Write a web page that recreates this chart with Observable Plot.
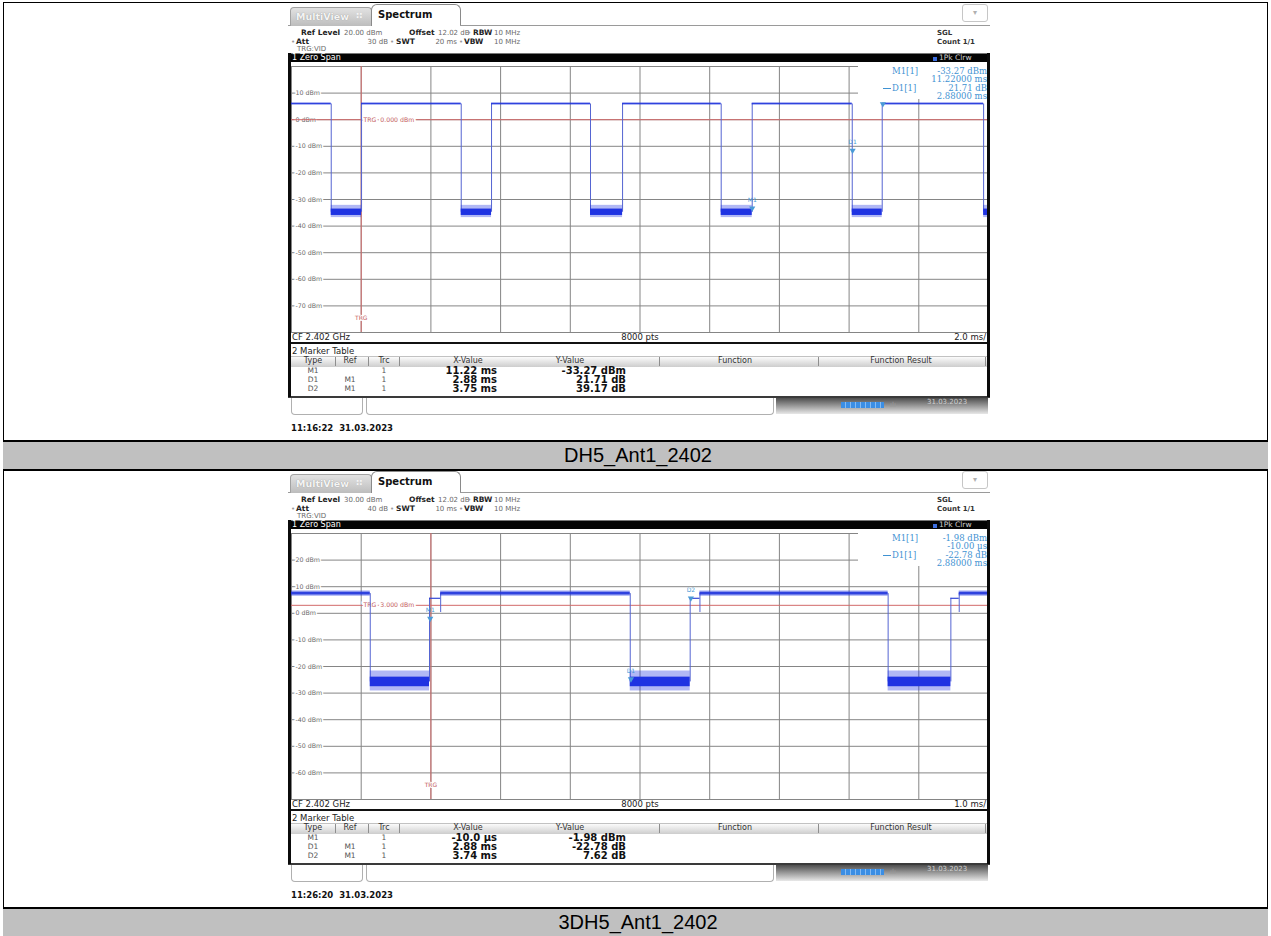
<!DOCTYPE html>
<html><head><meta charset="utf-8">
<script src="https://cdn.jsdelivr.net/npm/d3@7"></script>
<script src="https://cdn.jsdelivr.net/npm/@observablehq/plot@0.6"></script>
<style>
html,body{margin:0;padding:0;background:#fff;}
#page{position:relative;width:1271px;height:936px;overflow:hidden;background:#fff;font-family:"DejaVu Sans",sans-serif;}
#page div{position:absolute;}
</style></head>
<body><div id="page"></div>
<script>
// ================= Upper screenshot: DH5_Ant1_2402 =================
const caption1 = "DH5_Ant1_2402";
const timestamp1 = "11:16:22\u00a0\u00a031.03.2023";
const settingsA1 = ["20.00 dBm", "12.02 dB", "10 MHz"];   // Ref Level, Offset, RBW
const settingsB1 = ["30 dB", "20 ms", "10 MHz"];          // Att, SWT, VBW
const timeDomain1 = [-2, 18];                              // ms
const levelDomain1 = [-80, 20];                            // dBm
const timeGrid1 = [-2, 0, 2, 4, 6, 8, 10, 12, 14, 16, 18];
const levelGrid1 = [20, 10, 0, -10, -20, -30, -40, -50, -60, -70, -80];
const levelTicks1 = [10, 0, -10, -20, -30, -40, -50, -60, -70];
const fallTimes1 = [-0.86, 2.87, 6.58, 10.33, 14.09, 17.86];
const riseTimes1 = [0.01, 3.74, 7.50, 11.22, 14.95];
const onLevel1 = [5.6, 6.2];
const offLevel1 = [-36.8, -32.2];
const offCore1 = [-36.0, -33.6];
const trigLevel1 = 0;
const markerNames1 = ["M1", "D1", "D2"];
const markerTimes1 = [11.22, 14.10, 14.97];
const markerLevels1 = [-33.27, -11.56, 5.90];
const tableRef1 = ["", "M1", "M1"];
const tableX1 = ["11.22 ms", "2.88 ms", "3.75 ms"];
const tableY1 = ["-33.27 dBm", "21.71 dB", "39.17 dB"];
const infoLeft1 = ["M1[1]", "", "D1[1]", ""];
const infoRight1 = ["-33.27 dBm", "11.22000 ms", "21.71 dB", "2.88000 ms"];
const sweepLabel1 = "2.0 ms/";

// ================= Lower screenshot: 3DH5_Ant1_2402 =================
const caption2 = "3DH5_Ant1_2402";
const timestamp2 = "11:26:20\u00a0\u00a031.03.2023";
const settingsA2 = ["30.00 dBm", "12.02 dB", "10 MHz"];
const settingsB2 = ["40 dB", "10 ms", "10 MHz"];
const timeDomain2 = [-2, 8];
const levelDomain2 = [-70, 30];
const timeGrid2 = [-2, -1, 0, 1, 2, 3, 4, 5, 6, 7, 8];
const levelGrid2 = [30, 20, 10, 0, -10, -20, -30, -40, -50, -60, -70];
const levelTicks2 = [20, 10, 0, -10, -20, -30, -40, -50, -60];
const fallTimes2 = [-0.87, 2.86, 6.56];
const riseTimes2 = [-0.02, 3.72, 7.46];
const stepEndTimes2 = [0.14, 3.86, 7.58];
const stepLevel2 = 5.64;
const stepDip2 = 0.3;
const onLevel2 = [6.4, 8.4];
const onCore2 = [6.9, 7.9];
const offLevel2 = [-29.2, -21.7];
const offCore2 = [-27.6, -24.0];
const trigLevel2 = 3;
const markerNames2 = ["M1", "D1", "D2"];
const markerTimes2 = [-0.01, 2.87, 3.73];
const markerLevels2 = [-1.98, -24.76, 5.64];
const tableRef2 = ["", "M1", "M1"];
const tableX2 = ["-10.0 \u00b5s", "2.88 ms", "3.74 ms"];
const tableY2 = ["-1.98 dBm", "-22.78 dB", "7.62 dB"];
const infoLeft2 = ["M1[1]", "", "D1[1]", ""];
const infoRight2 = ["-1.98 dBm", "-10.00 \u00b5s", "-22.78 dB", "2.88000 ms"];
const sweepLabel2 = "1.0 ms/";

// shared labels
const tableHeads = ["Type", "Ref", "Trc", "X-Value", "Y-Value", "Function", "Function Result"];

// ---------------------------------------------------------------
const page = document.getElementById("page");
const SANS = '"DejaVu Sans", sans-serif';
const SERIF = '"DejaVu Serif", serif';
const BLUE_INFO = "#3f92d2";
const TRACE = "#1f33e2";
const EDGE = "#5565d2";
const RED = "#d26a6a";

function box(x, y, w, h, css) {
  const d = document.createElement("div");
  d.style.cssText = `position:absolute;left:${x}px;top:${y}px;width:${w}px;height:${h}px;box-sizing:border-box;` + (css || "");
  page.appendChild(d);
  return d;
}
function put(x, y, text, o = {}) {
  const d = document.createElement("div");
  d.textContent = text;
  const s = d.style;
  s.position = "absolute"; s.whiteSpace = "pre";
  s.left = x + "px"; s.top = (y - 6) + "px"; s.lineHeight = "12px"; s.height = "12px";
  s.fontSize = (o.size || 8) + "px";
  s.fontFamily = o.font || SANS;
  s.fontWeight = o.bold ? "bold" : "normal";
  s.color = o.color || "#222";
  if (o.anchor === "end") s.transform = "translateX(-100%)";
  else if (o.anchor === "middle") s.transform = "translateX(-50%)";
  if (o.css) s.cssText += o.css;
  page.appendChild(d);
  return d;
}

function chart(c) {
  const [t0, t1] = c.timeDomain;
  const onMid = (c.onLevel[0] + c.onLevel[1]) / 2;
  const offMid = (c.offCore[0] + c.offCore[1]) / 2;
  const starts = [t0, ...(c.stepEnds || c.rises)];
  const ends = [...c.falls]; if (starts.length > ends.length) ends.push(t1);
  const high = starts.map((s, i) => ({t0: s, t1: ends[i], lo: c.onLevel[0], hi: c.onLevel[1],
    clo: (c.onCore || c.onLevel)[0], chi: (c.onCore || c.onLevel)[1]}));
  const lowEnds = [...c.rises]; if (c.falls.length > c.rises.length) lowEnds.push(t1);
  const low = c.falls.map((f, i) => ({t0: f, t1: lowEnds[i], lo: c.offLevel[0], hi: c.offLevel[1],
    clo: c.offCore[0], chi: c.offCore[1]}));
  const steps = c.stepEnds ? c.rises.map((r, i) => ({t0: r, t1: c.stepEnds[i], y: c.stepLevel})) : [];
  const edges = [
    ...c.falls.map(t => ({t, a: onMid, b: offMid})),
    ...c.rises.map(t => ({t, a: offMid, b: c.stepEnds ? c.stepLevel : onMid})),
    ...(c.stepEnds || []).map(t => ({t, a: c.stepDip, b: onMid}))
  ];
  const markers = c.markerNames.map((n, i) => ({name: n, t: c.markerTimes[i], v: c.markerLevels[i]}));
  return Plot.plot({
    width: 702, height: 271,
    marginLeft: 3, marginRight: 2, marginTop: 4, marginBottom: 1,
    x: {domain: c.timeDomain, axis: null},
    y: {domain: c.levelDomain, axis: null},
    style: {background: "white", fontFamily: SANS, overflow: "visible"},
    marks: [
      Plot.ruleX(c.timeGrid, {stroke: "#858585", strokeWidth: 1}),
      Plot.ruleY(c.levelGrid, {stroke: "#858585", strokeWidth: 1}),
      Plot.text(c.levelTicks, {frameAnchor: "left", y: d => d, text: d => `${d} dBm`, dx: 4,
        textAnchor: "start", fontSize: 6.3, fill: "#6a6a6a", stroke: "white", strokeWidth: 3, paintOrder: "stroke"}),
      Plot.ruleX([0], {stroke: RED, strokeWidth: 1}),
      Plot.ruleY([c.trigLevel], {stroke: RED, strokeWidth: 1}),
      Plot.text([c.trigLevel], {frameAnchor: "left", y: d => d, dx: 72, textAnchor: "start",
        text: d => `TRG\u00a0\u00a0${d.toFixed(3)}\u00a0dBm`, fontSize: 6.2, fill: "#c45c5c", stroke: "white", strokeWidth: 4, paintOrder: "stroke"}),
      Plot.text([0], {x: d => d, frameAnchor: "bottom", dy: -13, text: () => "TRG", fontSize: 6,
        fill: "#c45c5c", stroke: "white", strokeWidth: 2, paintOrder: "stroke"}),
      Plot.ruleX(edges, {x: "t", y1: "a", y2: "b", stroke: EDGE, strokeWidth: 1}),
      Plot.rect(high, {x1: "t0", x2: "t1", y1: "lo", y2: "hi", fill: TRACE, fillOpacity: 0.4}),
      Plot.rect(high, {x1: "t0", x2: "t1", y1: "clo", y2: "chi", fill: "#2236dc", fillOpacity: 0.9}),
      Plot.ruleY(steps, {x1: "t0", x2: "t1", y: "y", stroke: "#3246d6", strokeWidth: 1.2}),
      Plot.rect(low, {x1: "t0", x2: "t1", y1: "lo", y2: "hi", fill: TRACE, fillOpacity: 0.35}),
      Plot.rect(low, {x1: "t0", x2: "t1", y1: "clo", y2: "chi", fill: TRACE}),
      Plot.dot(markers, {x: "t", y: "v", symbol: "triangle", rotate: 180, r: 2.3, fill: "#4a9ad6"}),
      Plot.text(markers, {x: "t", y: "v", text: "name", dy: -8, fontSize: 6, fill: "#4a9ad6"})
    ]
  });
}

function shot(c) {
  const Y = c.Y;
  // --- tab strip ---
  box(288, Y + 25, 84, 1, "background:#9a9a9a");
  box(290, Y + 7, 82, 19, "background:linear-gradient(#e2e2e2,#bdbdbd);border:1px solid #a2a2a2;border-bottom:none;border-radius:4px 4px 0 0;");
  put(296, Y + 16.5, "MultiView", {bold: true, size: 9.5, color: "#f4f4f4", css: "text-shadow:0 0 1px #8a8a8a;"});
  put(356, Y + 16, "::", {bold: true, size: 8, color: "#f8f8f8"});
  box(371, Y + 4, 90, 22, "background:#fff;border:1px solid #8a8a8a;border-bottom:none;border-radius:6px 6px 0 0;");
  put(378, Y + 15, "Spectrum", {bold: true, size: 10, color: "#111"});
  box(460, Y + 25, 530, 1, "background:#9a9a9a");
  box(962, Y + 4, 26, 18, "border:1px solid #c6c6c6;border-radius:3px;background:#fff;");
  put(975, Y + 13, "\u25be", {size: 8, color: "#b0b0b0", anchor: "middle"});
  // --- settings ---
  put(301, Y + 33.3, "Ref Level", {bold: true, size: 7.5});
  put(344, Y + 33.3, c.settingsA[0], {size: 7, color: "#6a6a6a"});
  put(409, Y + 33.3, "Offset", {bold: true, size: 7.5});
  put(438, Y + 33.3, c.settingsA[1], {size: 7, color: "#6a6a6a"});
  put(467, Y + 33.3, "\u2022", {size: 7, color: "#9a9a9a"});
  put(473, Y + 33.3, "RBW", {bold: true, size: 7.5});
  put(494, Y + 33.3, c.settingsA[2], {size: 7, color: "#6a6a6a"});
  put(291, Y + 41.7, "\u2022", {size: 7, color: "#9a9a9a"});
  put(296, Y + 41.7, "Att", {bold: true, size: 7.5});
  put(388, Y + 41.7, c.settingsB[0], {size: 7, color: "#6a6a6a", anchor: "end"});
  put(390, Y + 41.7, "\u2022", {size: 7, color: "#9a9a9a"});
  put(396, Y + 41.7, "SWT", {bold: true, size: 7.5});
  put(457, Y + 41.7, c.settingsB[1], {size: 7, color: "#6a6a6a", anchor: "end"});
  put(459, Y + 41.7, "\u2022", {size: 7, color: "#9a9a9a"});
  put(464, Y + 41.7, "VBW", {bold: true, size: 7.5});
  put(494, Y + 41.7, c.settingsB[2], {size: 7, color: "#6a6a6a"});
  put(297, Y + 49.3, "TRG:VID", {size: 7, color: "#6a6a6a"});
  put(937, Y + 33.3, "SGL", {bold: true, size: 7, color: "#333"});
  put(937, Y + 41.7, "Count 1/1", {bold: true, size: 7, color: "#333"});
  // --- window title bar ---
  box(288, Y + 53, 702, 10, "background:#040404;border-top:1px solid #777;");
  put(292, Y + 58.3, "1 Zero Span", {size: 8, color: "#fff"});
  box(933, Y + 56.5, 4, 4, "background:#3d6fe0;");
  put(939, Y + 58.3, "1Pk Clrw", {size: 7.5, color: "#cfcfcf"});
  // --- plot ---
  const svg = chart(c);
  svg.style.position = "absolute"; svg.style.left = "288px"; svg.style.top = (Y + 62) + "px";
  page.appendChild(svg);
  // marker info box
  box(858, Y + 63, 129, 35.5, "background:#fff;");
  const iy = [70.5, 79, 87.5, 96];
  c.infoLeft.forEach((s, i) => { if (s) put(892, Y + iy[i], s, {font: SERIF, size: 8.5, color: BLUE_INFO}); });
  c.infoRight.forEach((s, i) => put(987, Y + iy[i], s, {font: SERIF, size: 8.5, color: BLUE_INFO, anchor: "end"}));
  box(883, Y + 88, 8, 1, "background:" + BLUE_INFO);
  // --- CF row ---
  box(291, Y + 333, 696, 9, "background:#fff;");
  put(292, Y + 337.3, "CF 2.402 GHz", {size: 8.5, color: "#222"});
  put(640, Y + 337.3, "8000 pts", {size: 8.5, color: "#222", anchor: "middle"});
  put(986, Y + 337.3, c.sweepLabel, {size: 8.5, color: "#222", anchor: "end"});
  box(288, Y + 341.5, 702, 2, "background:#111;");
  // --- marker table ---
  put(292, Y + 350.5, "2 Marker Table", {size: 8.5, color: "#222"});
  box(291, Y + 356, 696, 10.5, "background:linear-gradient(#fbfbfb,#cdcdcd);border-top:1px solid #c2c2c2;");
  const headX = [313, 350, 384, 468, 570, 735, 901];
  tableHeads.forEach((h, i) => put(headX[i], Y + 361.3, h, {size: 8, color: "#333", anchor: "middle"}));
  [335, 368, 399, 659, 818, 985].forEach(x => box(x, Y + 357, 1, 9, "background:#8e8e8e;"));
  const rowY = [370.7, 380, 389];
  c.markerNames.forEach((n, i) => {
    put(313, Y + rowY[i], n, {size: 7.5, color: "#555", anchor: "middle"});
    if (c.tableRef[i]) put(350, Y + rowY[i], c.tableRef[i], {size: 7.5, color: "#555", anchor: "middle"});
    put(384, Y + rowY[i], "1", {size: 7.5, color: "#555", anchor: "middle"});
    put(497, Y + rowY[i], c.tableX[i], {bold: true, size: 10, color: "#111", anchor: "end"});
    put(626, Y + rowY[i], c.tableY[i], {bold: true, size: 10, color: "#111", anchor: "end"});
  });
  box(288, Y + 395.5, 702, 2, "background:#3a3a3a;");
  // --- status bar ---
  box(291, Y + 397.5, 72, 17, "border:1px solid #b0b0b0;border-top:none;border-radius:0 0 4px 4px;background:#fff;");
  box(366, Y + 397.5, 408, 17, "border:1px solid #b0b0b0;border-top:none;border-radius:0 0 4px 4px;background:#fff;");
  box(776, Y + 397.5, 212, 16, "background:linear-gradient(#4e4e4e,#e8e8e8);");
  box(841, Y + 402, 43, 6, "background:repeating-linear-gradient(90deg,#3b8ee4 0 4px,#86baf0 4px 5px);");
  put(890, Y + 405, "\u0131l\u0131", {size: 7, color: "#9a9a9a"});
  put(927, Y + 401.5, "31.03.2023", {size: 7, color: "#cfcfcf"});
  // frame around measurement window
  box(288, Y + 53, 702, 344, "border-left:3px solid #0b0b0b;border-right:3px solid #0b0b0b;");
  // timestamp
  put(291, Y + 427.7, c.timestamp, {bold: true, size: 8.5, color: "#111"});
  // caption band
  box(3, Y + 439.5, 1265, 31, "background:#c0c0c0;border-top:2px solid #000;border-bottom:2px solid #000;");
  put(638, Y + 455, c.caption, {font: '"Liberation Sans", Arial, sans-serif', size: 20, color: "#000", anchor: "middle"});
}

// outer table lines
box(3, 2, 1265, 1, "background:#000;");
box(3, 2, 1, 934, "background:#000;");
box(1267, 2, 1, 934, "background:#000;");

shot({Y: 0, caption: caption1, timestamp: timestamp1, settingsA: settingsA1, settingsB: settingsB1,
  timeDomain: timeDomain1, levelDomain: levelDomain1, timeGrid: timeGrid1, levelGrid: levelGrid1,
  levelTicks: levelTicks1, falls: fallTimes1, rises: riseTimes1, onLevel: onLevel1,
  offLevel: offLevel1, offCore: offCore1, trigLevel: trigLevel1,
  markerNames: markerNames1, markerTimes: markerTimes1, markerLevels: markerLevels1,
  tableRef: tableRef1, tableX: tableX1, tableY: tableY1, infoLeft: infoLeft1, infoRight: infoRight1,
  sweepLabel: sweepLabel1});
shot({Y: 467, caption: caption2, timestamp: timestamp2, settingsA: settingsA2, settingsB: settingsB2,
  timeDomain: timeDomain2, levelDomain: levelDomain2, timeGrid: timeGrid2, levelGrid: levelGrid2,
  levelTicks: levelTicks2, falls: fallTimes2, rises: riseTimes2, stepEnds: stepEndTimes2,
  stepLevel: stepLevel2, stepDip: stepDip2, onLevel: onLevel2, onCore: onCore2,
  offLevel: offLevel2, offCore: offCore2, trigLevel: trigLevel2,
  markerNames: markerNames2, markerTimes: markerTimes2, markerLevels: markerLevels2,
  tableRef: tableRef2, tableX: tableX2, tableY: tableY2, infoLeft: infoLeft2, infoRight: infoRight2,
  sweepLabel: sweepLabel2});
</script>
</body></html>
